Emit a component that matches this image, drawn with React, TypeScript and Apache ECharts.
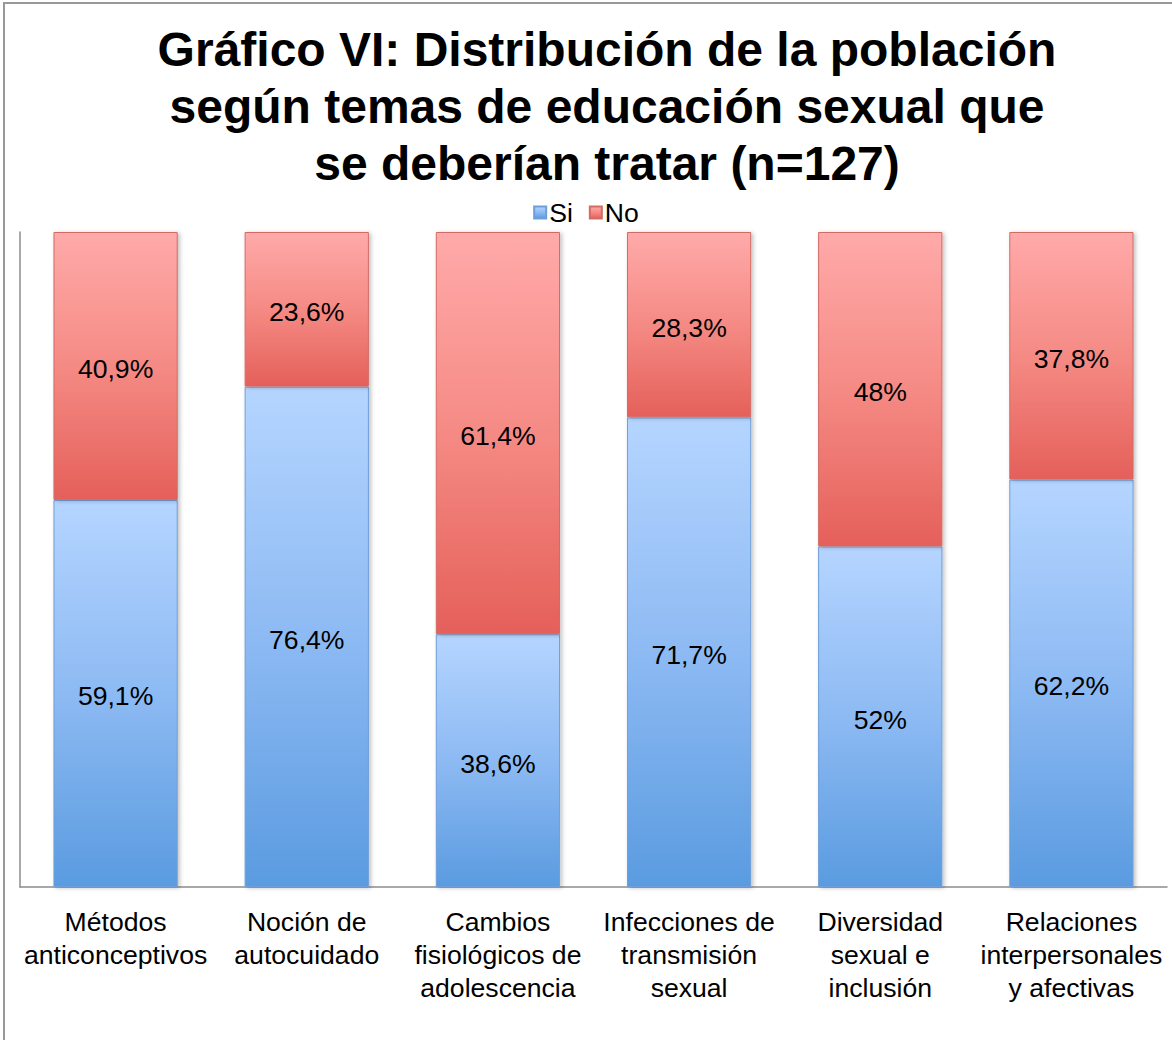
import React, { useEffect, useRef } from "react";
import * as echarts from "echarts";

const categories = [
  "Métodos\nanticonceptivos",
  "Noción de\nautocuidado",
  "Cambios\nfisiológicos de\nadolescencia",
  "Infecciones de\ntransmisión\nsexual",
  "Diversidad\nsexual e\ninclusión",
  "Relaciones\ninterpersonales\ny afectivas",
];
const siValues = [59.1, 76.4, 38.6, 71.7, 52, 62.2];
const noValues = [40.9, 23.6, 61.4, 28.3, 48, 37.8];
const titleText =
  "Gráfico VI: Distribución de la población\nsegún temas de educación sexual que\nse deberían tratar (n=127)";

const fmt = (v: number) => String(v).replace(".", ",") + "%";

export default function App() {
  const ref = useRef<HTMLDivElement>(null);
  useEffect(() => {
    document.body.style.margin = "0";
    const chart = echarts.init(ref.current!, null, { renderer: "svg" });
    const blue = new echarts.graphic.LinearGradient(0, 0, 0, 1, [
      { offset: 0, color: "#b5d5ff" },
      { offset: 0.5, color: "#8dbaf3" },
      { offset: 1, color: "#5a9be0" },
    ]);
    const red = new echarts.graphic.LinearGradient(0, 0, 0, 1, [
      { offset: 0, color: "#ffaaaa" },
      { offset: 0.5, color: "#f58a84" },
      { offset: 1, color: "#e5605a" },
    ]);
    const font = "Liberation Sans, Arial, sans-serif";
    const fs = 26.6;
    chart.setOption({
      animation: false,
      textStyle: { fontFamily: font },
      legend: {
        top: 194,
        left: "center",
        itemWidth: 12,
        itemHeight: 12,
        itemGap: 16,
        icon: "rect",
        textStyle: { fontSize: fs, color: "#000", fontFamily: font, padding: [0, 0, 0, -2] },
        data: ["Si", "No"],
      },
      graphic: [
        {
          type: "rect",
          shape: { x: 4, y: 3, width: 1200, height: 1100 },
          style: { fill: "none", stroke: "#999", lineWidth: 2 },
          silent: true,
        },
        {
          type: "text",
          x: 607,
          y: 21,
          silent: true,
          style: {
            text: titleText,
            fontSize: 48,
            fontWeight: "bold",
            fontFamily: font,
            lineHeight: 57,
            fill: "#000",
            align: "center",
            verticalAlign: "top",
          },
        },
      ],
      grid: { left: 20, right: 5, top: 232, bottom: 153, containLabel: false },
      xAxis: {
        type: "category",
        data: categories,
        axisLine: { lineStyle: { color: "#8c8c8c", width: 1.5 } },
        axisTick: { show: false },
        axisLabel: {
          interval: 0,
          fontSize: fs,
          lineHeight: 33,
          color: "#000",
          margin: 18,
          fontFamily: font,
        },
      },
      yAxis: {
        type: "value",
        min: 0,
        max: 100,
        axisLine: { show: true, lineStyle: { color: "#8c8c8c", width: 1.5 } },
        axisLabel: { show: false },
        axisTick: { show: false },
        splitLine: { show: false },
      },
      series: [
        {
          name: "Si",
          type: "bar",
          stack: "total",
          data: siValues,
          barCategoryGap: "35%",
          itemStyle: {
            color: blue,
            borderColor: "#6f9fd8",
            borderWidth: 1,
            shadowColor: "rgba(0,0,0,0.25)",
            shadowBlur: 4,
            shadowOffsetX: 2,
            shadowOffsetY: 1,
          },
          label: {
            show: true,
            position: "inside",
            offset: [0, 3],
            formatter: (p: any) => fmt(p.value),
            fontSize: fs,
            color: "#000",
            fontFamily: font,
          },
        },
        {
          name: "No",
          type: "bar",
          stack: "total",
          data: noValues,
          barCategoryGap: "35%",
          itemStyle: {
            color: red,
            borderColor: "#d46a64",
            borderWidth: 1,
            shadowColor: "rgba(0,0,0,0.25)",
            shadowBlur: 4,
            shadowOffsetX: 2,
            shadowOffsetY: 1,
          },
          label: {
            show: true,
            position: "inside",
            offset: [0, 3],
            formatter: (p: any) => fmt(p.value),
            fontSize: fs,
            color: "#000",
            fontFamily: font,
          },
        },
      ],
    });
    return () => chart.dispose();
  }, []);
  return <div ref={ref} style={{ width: 1172, height: 1040 }} />;
}
